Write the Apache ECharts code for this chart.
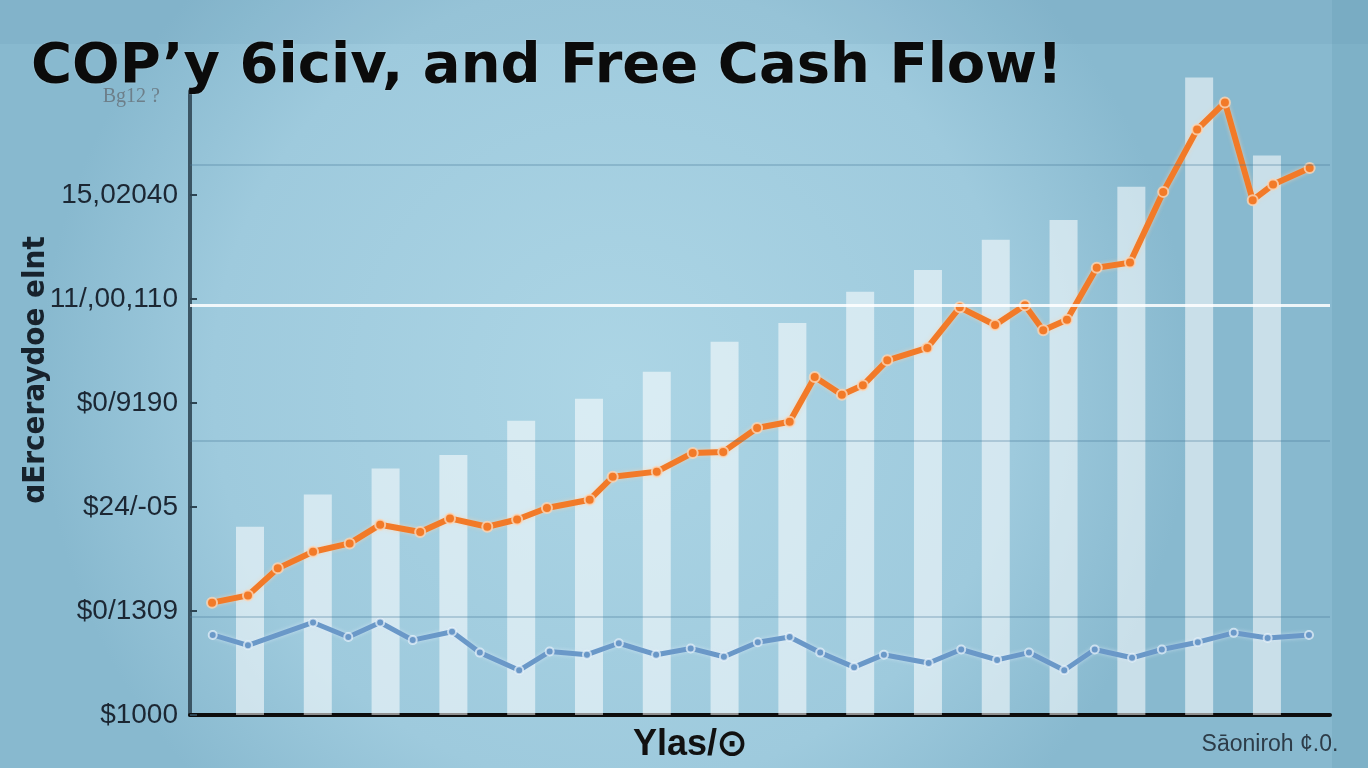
<!DOCTYPE html>
<html>
<head>
<meta charset="utf-8">
<script src="https://cdn.jsdelivr.net/npm/echarts@6/dist/echarts.min.js"></script>
<style>
  html, body { margin: 0; padding: 0; background: #94c2d7; }
  #chart { width: 1368px; height: 768px; }
</style>
</head>
<body>
<div id="chart"></div>
<script>
// ---- data ----
const tickLabels = ['$1000', '$0/1309', '$24/-05', '$0/9190', '11/,00,110', '15,02040', 'Bg12 ?'];
const barX = [0, 1, 2, 3, 4, 5, 6, 7, 8, 9, 10, 11, 12, 13, 14, 15];
const barValues = [1.81, 2.12, 2.37, 2.50, 2.83, 3.04, 3.30, 3.59, 3.77, 4.07, 4.28, 4.57, 4.76, 5.08, 6.13, 5.38];
const orangeX = [-0.56, -0.03, 0.41, 0.93, 1.47, 1.92, 2.51, 2.95, 3.50, 3.94, 4.38, 5.01, 5.35, 6.00, 6.53, 6.98, 7.48, 7.96,
                 8.33, 8.73, 9.04, 9.40, 9.99, 10.47, 10.99, 11.43, 11.70, 12.05, 12.49, 12.98, 13.47, 13.97, 14.38, 14.79, 15.09, 15.63];
const orangeY = [1.08, 1.15, 1.41, 1.57, 1.65, 1.83, 1.76, 1.89, 1.81, 1.88, 1.99, 2.07, 2.29, 2.34, 2.52, 2.53, 2.76, 2.82,
                 3.25, 3.08, 3.17, 3.41, 3.53, 3.92, 3.75, 3.94, 3.70, 3.80, 4.30, 4.35, 5.03, 5.63, 5.89, 4.95, 5.10, 5.26];
const blueX = [-0.55, -0.03, 0.93, 1.45, 1.92, 2.40, 2.98, 3.39, 3.97, 4.42, 4.97, 5.44, 5.99, 6.50, 6.99, 7.49, 7.96,
               8.41, 8.91, 9.35, 10.01, 10.49, 11.02, 11.49, 12.01, 12.46, 13.01, 13.45, 13.98, 14.51, 15.01, 15.62];
const blueY = [0.77, 0.67, 0.89, 0.75, 0.89, 0.72, 0.80, 0.60, 0.43, 0.61, 0.58, 0.69, 0.58, 0.64, 0.56, 0.70, 0.75,
               0.60, 0.46, 0.58, 0.50, 0.63, 0.53, 0.60, 0.43, 0.63, 0.55, 0.63, 0.70, 0.79, 0.74, 0.77];
const refLines = [0.94, 2.64, 5.29];
const brightLine = 3.94;
const titleText = 'COP\u2019y 6iciv, and Free Cash Flow!';
const yName = '\u0251Erceraydoe elnt';
const xName = 'Ylas/\u2299';
const sourceText = 'S\u0101oniroh \u00a2.0.';

const zip = (xs, ys) => xs.map((x, i) => [x, ys[i]]);

const chart = echarts.init(document.getElementById('chart'));
chart.setOption({
  animation: false,
  backgroundColor: new echarts.graphic.RadialGradient(0.45, 0.5, 0.75, [
    { offset: 0, color: '#acd5e5' },
    { offset: 0.7, color: '#9ecadd' },
    { offset: 1, color: '#88b9cf' }
  ]),
  title: {
    text: titleText,
    left: 26,
    top: 34,
    textStyle: {
      fontFamily: 'DejaVu Sans',
      fontWeight: 'bold',
      fontSize: 56,
      color: '#0b0b0b',
      textShadowColor: 'rgba(255,255,255,0.35)',
      textShadowBlur: 2
    }
  },
  graphic: [
    { type: 'rect', z: -10, silent: true, shape: { x: 1332, y: 0, width: 36, height: 768 },
      style: { fill: 'rgba(60,120,150,0.12)' } },
    { type: 'rect', z: -10, silent: true, shape: { x: 0, y: 0, width: 1368, height: 44 },
      style: { fill: 'rgba(60,120,150,0.08)' } },
    { type: 'text', x: 36, y: 370, rotation: Math.PI / 2, silent: true,
      style: { text: yName, font: 'bold 31px "DejaVu Sans Condensed", "DejaVu Sans"', fill: '#17222c',
               align: 'center', verticalAlign: 'middle' } },
    { type: 'text', x: 690, y: 745, silent: true,
      style: { text: xName, font: 'bold 36px "Liberation Sans"', fill: '#111',
               align: 'center', verticalAlign: 'middle' } },
    { type: 'text', x: 1270, y: 745, silent: true,
      style: { text: sourceText, font: '23px "Liberation Sans"', fill: '#2d3c48',
               align: 'center', verticalAlign: 'middle' } }
  ],
  grid: { left: 190, right: 38, top: 91, bottom: 53 },
  xAxis: {
    type: 'value',
    min: -0.885,
    max: 15.93,
    axisLine: { show: true, onZero: false, lineStyle: { color: '#0d0d0d', width: 4 } },
    axisTick: { show: false },
    axisLabel: { show: false },
    splitLine: { show: false }
  },
  yAxis: {
    type: 'value',
    min: 0,
    max: 6,
    interval: 1,
    axisLine: { show: true, onZero: false, lineStyle: { color: '#3b5564', width: 4 } },
    axisTick: { show: true, inside: true, length: 7, lineStyle: { color: '#2d4452', width: 2 } },
    axisLabel: {
      margin: 12,
      fontFamily: 'Liberation Sans',
      fontSize: 28,
      color: '#1c2733',
      formatter: (v, i) => i === 6 ? '{g|' + tickLabels[i] + '}' : tickLabels[i],
      rich: { g: { fontFamily: 'Liberation Serif', fontSize: 20, color: '#6d7f8a', padding: [12, 18, 0, 0] } }
    },
    splitLine: { show: false }
  },
  series: [
    {
      type: 'bar',
      data: zip(barX, barValues),
      barWidth: 28,
      clip: false,
      itemStyle: { color: 'rgba(255,255,255,0.55)' },
      markLine: {
        silent: true,
        symbol: 'none',
        label: { show: false },
        data: refLines.map(v => ({ yAxis: v, lineStyle: { color: 'rgba(70,120,150,0.28)', width: 2, type: 'solid' } }))
          .concat([{ yAxis: brightLine, lineStyle: { color: 'rgba(255,255,255,0.85)', width: 3, type: 'solid' } }])
      },
      z: 1
    },
    {
      type: 'line',
      data: zip(blueX, blueY),
      symbol: 'circle',
      symbolSize: 8,
      lineStyle: { color: '#6a98c8', width: 5, shadowColor: 'rgba(220,235,250,0.6)', shadowBlur: 4 },
      itemStyle: { color: '#6a98c8', borderColor: 'rgba(235,245,252,0.7)', borderWidth: 2 },
      z: 3
    },
    {
      type: 'line',
      data: zip(orangeX, orangeY),
      symbol: 'circle',
      symbolSize: 10,
      lineStyle: { color: '#f27a28', width: 6, shadowColor: 'rgba(255,210,170,0.7)', shadowBlur: 4 },
      itemStyle: { color: '#f27a28', borderColor: 'rgba(250,215,185,0.8)', borderWidth: 2 },
      z: 4
    }
  ]
});
</script>
</body>
</html>
